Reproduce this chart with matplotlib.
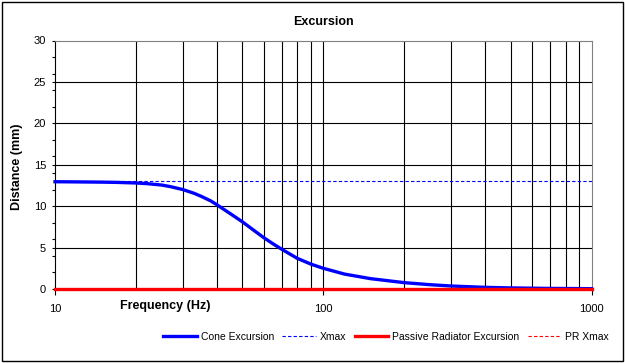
import matplotlib

matplotlib.use("Agg")

import matplotlib.pyplot as plt
from matplotlib.patches import Rectangle
from matplotlib.ticker import FixedFormatter, FixedLocator, NullFormatter

plt.rcParams["font.family"] = ["Liberation Sans", "DejaVu Sans"]

# values
freq_hz = [10, 12, 15, 17, 20, 22, 25, 27, 30, 33, 35, 38, 40, 45, 50, 55, 60,
           65, 70, 80, 90, 100, 120, 150, 200, 250, 300, 400, 500, 700, 1000]
cone_excursion = [12.95, 12.93, 12.9, 12.87, 12.8, 12.72, 12.55, 12.35, 12.0,
                  11.55, 11.2, 10.65, 10.2, 9.1, 8.1, 7.1, 6.2, 5.45, 4.8,
                  3.7, 3.0, 2.5, 1.8, 1.25, 0.77, 0.52, 0.36, 0.2, 0.13,
                  0.07, 0.04]
xmax_freq = [10, 1000]
xmax_value = [13, 13]
pr_excursion = [0, 0]
pr_xmax = [0, 0]

x_major = [10, 100, 1000]
x_minor = [20, 30, 40, 50, 60, 70, 80, 90, 200, 300, 400, 500, 600, 700, 800, 900]
y_major = [0, 5, 10, 15, 20, 25, 30]
y_minor = [2, 4, 6, 8, 12, 14, 16, 18, 22, 24, 26, 28]

fig = plt.figure(figsize=(6.25, 3.63), dpi=100)
ax = fig.add_axes([55 / 625, 1 - 289 / 363, 536.5 / 625, 248.5 / 363])

ax.set_xscale("log")
ax.set_xlim(10, 1000)
ax.set_ylim(0, 30)

ax.xaxis.set_major_locator(FixedLocator(x_major))
ax.xaxis.set_minor_locator(FixedLocator(x_minor))
ax.xaxis.set_major_formatter(FixedFormatter(["10", "100", "1000"]))
ax.xaxis.set_minor_formatter(NullFormatter())
ax.yaxis.set_major_locator(FixedLocator(y_major))
ax.yaxis.set_minor_locator(FixedLocator(y_minor))

for x in x_major[1:-1] + x_minor:
    ax.axvline(x, color="black", linewidth=0.8, zorder=1)
for y in y_major[1:-1]:
    ax.axhline(y, color="black", linewidth=0.8, zorder=1)

ax.tick_params(axis="x", which="major", direction="out", length=4, width=0.8,
               pad=7, labelsize=8)
ax.tick_params(axis="x", which="minor", length=0)
ax.tick_params(axis="y", which="both", direction="out", length=2.5, width=0.8,
               pad=4, labelsize=8)

ax.spines["left"].set_color("black")
ax.spines["bottom"].set_color("black")
ax.spines["top"].set_color("#808080")
ax.spines["right"].set_color("#808080")
for side in ax.spines:
    ax.spines[side].set_linewidth(0.8)

ax.plot(xmax_freq, pr_xmax, color="red", linestyle=(0, (3, 2)), linewidth=0.8,
        label="PR Xmax", zorder=2)
ax.plot(xmax_freq, xmax_value, color="#0000ff", linestyle=(0, (3, 2)),
        linewidth=0.8, label="Xmax", zorder=3)
ax.plot(freq_hz, cone_excursion, color="#0000ff", linewidth=2.4,
        label="Cone Excursion", zorder=4, clip_on=False)
ax.plot(xmax_freq, pr_excursion, color="red", linewidth=2.4,
        label="Passive Radiator Excursion", zorder=5, clip_on=False)

handles, labels = ax.get_legend_handles_labels()
order = ["Cone Excursion", "Xmax", "Passive Radiator Excursion", "PR Xmax"]
handles = [handles[labels.index(name)] for name in order]
fig.legend(handles, order, loc="center", bbox_to_anchor=(386 / 625, 1 - 337 / 363),
           ncol=4, frameon=False, fontsize=7.5, handlelength=3.2,
           handletextpad=0.4, columnspacing=0.8)

fig.text(323 / 625, 1 - 22 / 363, "Excursion", ha="center", va="center",
         fontsize=9, fontweight="bold")
fig.text(165 / 625, 1 - 306 / 363, "Frequency (Hz)", ha="center", va="center",
         fontsize=9, fontweight="bold")
fig.text(17 / 625, 1 - 167 / 363, "Distance (mm)", ha="center", va="center",
         rotation=90, fontsize=9, fontweight="bold")

fig.patches.append(Rectangle((2 / 625, 2 / 363), 621 / 625, 359 / 363,
                             transform=fig.transFigure, fill=False,
                             edgecolor="black", linewidth=1))

fig.savefig("out.png", dpi=100)
